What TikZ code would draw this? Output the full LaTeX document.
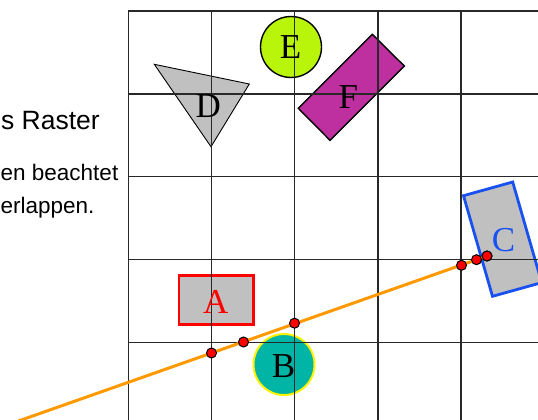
\documentclass[tikz,border=0pt]{standalone}
\usepackage{fontspec}
\setmainfont{Liberation Serif}
\newfontfamily\sansf{Liberation Sans}
\definecolor{gridc}{RGB}{40,40,40}
\definecolor{grayf}{RGB}{192,192,192}
\definecolor{limef}{RGB}{185,245,10}
\definecolor{magf}{RGB}{190,48,160}
\definecolor{tealf}{RGB}{0,181,165}
\definecolor{bluec}{RGB}{25,80,240}
\definecolor{orangec}{RGB}{255,153,0}
\begin{document}
\begin{tikzpicture}[x=1pt,y=-1pt,
  gridline/.style={draw=gridc,line width=1.3pt},
  lbl/.style={inner sep=0pt,font=\fontsize{35}{40}\selectfont},
  dotn/.style={circle,fill=red,draw=black,line width=1pt,minimum size=10pt,inner sep=0pt},
  bigtxt/.style={inner sep=0pt,font=\sansf\fontsize{26.5}{30}\selectfont},
  smalltxt/.style={inner sep=0pt,font=\sansf\fontsize{22.5}{26}\selectfont},
  orangeline/.style={draw=orangec,line width=3pt}]
\useasboundingbox (0,0) rectangle (538,420);
\clip (0,0) rectangle (538,420);
% shapes
\path[fill=grayf,draw=black,line width=0.9pt] (154.3,64.3) -- (249.3,84) -- (211,146.7) -- cycle;
\path[fill=limef,draw=black,line width=1.4pt] (291,47) circle[radius=30.5];
\path[fill=magf,draw=black,line width=1.4pt] (372.3,34.3) -- (404.3,66) -- (330,140.3) -- (298.3,108.3) -- cycle;
\path[fill=grayf,draw=bluec,line width=2.8pt] (463.5,195.7) -- (512.7,182) -- (541.7,282.6) -- (492.5,296.3) -- cycle;
\path[fill=grayf,draw=red,line width=2.8pt] (179,275.7) rectangle (253.5,324.3);
\path[fill=tealf,draw=yellow,line width=2pt] (284,364.5) circle[radius=30.5];
% grid
\foreach \i in {0,...,4} {
  \draw[gridline] (128.3+83.2*\i,11) -- (128.3+83.2*\i,425);
  \draw[gridline] (128.3,11+82.9*\i) -- (545,11+82.9*\i);
}
% labels
\node[lbl] (labD) at (208.3,106.5) {D};
\node[lbl] (labE) at (290.5,47) {E};
\node[lbl] (labF) at (348.3,96.7) {F};
\node[lbl,text=bluec] (labC) at (503.5,240) {C};
\node[lbl,text=red] (labA) at (215.8,301.5) {A};
\node[lbl] (labB) at (283.5,366.5) {B};
% texts
\node[bigtxt,anchor=base east] (t1) at (100,129) {s Raster};
\node[smalltxt,anchor=base east] (t2) at (118.5,180) {en beachtet};
\node[smalltxt,anchor=base west] (t3) at ([yshift=-33pt]t2.base west) {erlappen.};
% line and dots
\coordinate (ls) at (0,427.5);
\node[dotn] (p6) at (487,256) {};
\draw[orangeline] (ls) -- (p6.center);
\node[dotn] (p1) at (211.5,353) {};
\node[dotn] (p2) at (243.5,342) {};
\node[dotn] (p3) at (294.5,323.2) {};
\node[dotn] (p4) at (461.5,265.3) {};
\node[dotn] (p5) at (476.5,259.7) {};
\node[dotn] (p6b) at (487,256) {};
\end{tikzpicture}
\end{document}
